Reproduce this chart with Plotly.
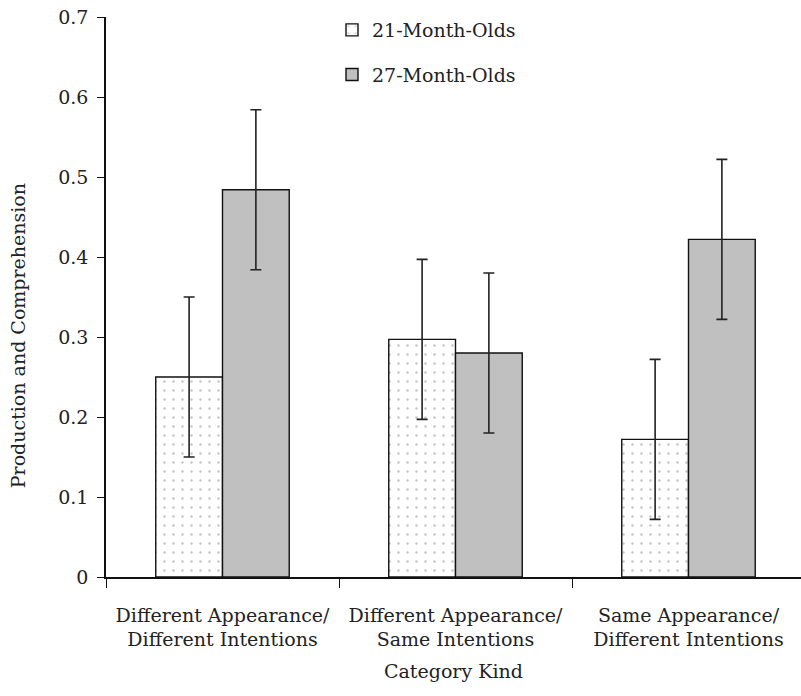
import plotly.graph_objects as go

categories = ["Different Appearance/<br>Different Intentions",
              "Different Appearance/<br>Same Intentions",
              "Same Appearance/<br>Different Intentions"]
series_names = ["21-Month-Olds", "27-Month-Olds"]
values_21 = [0.25, 0.297, 0.172]
values_27 = [0.484, 0.28, 0.422]
err_21 = [0.1, 0.1, 0.1]
err_27 = [0.1, 0.1, 0.1]
y_ticks = [0, 0.1, 0.2, 0.3, 0.4, 0.5, 0.6, 0.7]
y_tick_labels = ["0", "0.1", "0.2", "0.3", "0.4", "0.5", "0.6", "0.7"]

FONT = "DejaVu Serif"
TXT = "#222222"
FS = 19
W, H = 801, 696
L, T, B = 106, 17, 119
cat_px = 233.0
plot_w = W - L
plot_h = H - T - B

fig = go.Figure()
fig.add_trace(go.Bar(
    x=categories, y=values_21, name=series_names[0], legendgroup="a",
    marker=dict(color="white", line=dict(color="#111", width=1.4),
                pattern=dict(shape=".", fgcolor="#8a8a8a", bgcolor="white",
                             size=9, solidity=0.06)),
    error_y=dict(type="data", array=err_21, color="#222", thickness=1.6, width=5.5),
))
fig.add_trace(go.Bar(
    x=categories, y=values_27, name=series_names[1], legendgroup="b",
    marker=dict(color="#c0c0c0", line=dict(color="#111", width=1.4)),
    error_y=dict(type="data", array=err_27, color="#222", thickness=1.6, width=5.5),
))

fig.update_layout(
    width=W, height=H,
    margin=dict(l=L, r=0, t=T, b=B, pad=0, autoexpand=False),
    paper_bgcolor="white", plot_bgcolor="white",
    barmode="group", bargap=0.427, bargroupgap=0,
    font=dict(family=FONT, size=FS, color=TXT),
    showlegend=True,
    legend=dict(x=(332 - L) / plot_w, xanchor="left", y=1.0 + 6 / plot_h, yanchor="top",
                traceorder="grouped", tracegroupgap=17,
                font=dict(family=FONT, size=FS, color=TXT),
                bgcolor="rgba(0,0,0,0)", itemwidth=30),
    xaxis=dict(
        type="category", range=[-0.5, -0.5 + plot_w / cat_px], automargin=False,
        showline=True, linecolor="#111", linewidth=1.5,
        ticks="outside", ticklen=9, tickcolor="#111", tickwidth=1.3,
        tickson="boundaries", ticklabelstandoff=20,
        tickfont=dict(family=FONT, size=FS, color=TXT),
        showgrid=False, zeroline=False,
    ),
    yaxis=dict(
        range=[0, 0.7], tickvals=y_ticks, ticktext=y_tick_labels, automargin=False,
        showline=True, linecolor="#111", linewidth=1.5,
        ticks="outside", ticklen=7, tickcolor="#111", tickwidth=1.3,
        ticklabelstandoff=5,
        tickfont=dict(family=FONT, size=FS, color=TXT),
        showgrid=False, zeroline=False,
    ),
)
fig.add_annotation(text="Production and Comprehension", textangle=-90,
                   xref="paper", yref="paper", x=-(L - 18) / plot_w, xanchor="center",
                   y=0.43, yanchor="middle", showarrow=False,
                   font=dict(family=FONT, size=FS, color=TXT))
fig.add_annotation(text="Category Kind",
                   xref="paper", yref="paper", x=0.5, xanchor="center",
                   y=-(671 - (T + plot_h)) / plot_h, yanchor="middle", showarrow=False,
                   font=dict(family=FONT, size=FS, color=TXT))

fig.write_html("out.html")
